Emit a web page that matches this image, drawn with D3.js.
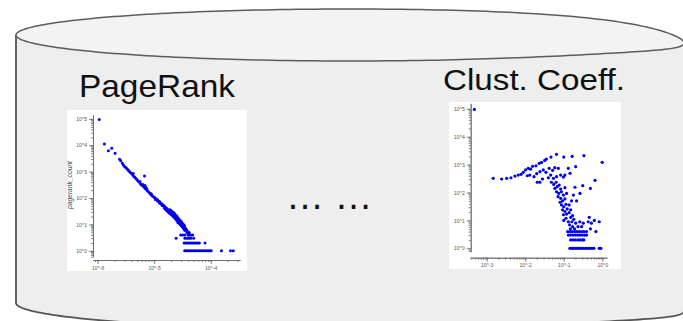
<!DOCTYPE html>
<html>
<head>
<meta charset="utf-8">
<script src="https://cdn.jsdelivr.net/npm/d3@7"></script>
<style>
  body { margin: 0; background: #fff; }
  svg { display: block; font-family: "Liberation Sans", Arial, sans-serif; }
</style>
</head>
<body>
<div id="chart"></div>
<script>
// set the dimensions of the picture
var width = 683,
    height = 321

// titles of the two small plots
var titles = ["PageRank", "Clust. Coeff."]

// tick values and their labels
var prXTicks = [1e-6, 1e-5, 1e-4]
var prXLabels = ["10^-6", "10^-5", "10^-4"]
var ccXTicks = [1e-3, 1e-2, 1e-1, 1]
var ccXLabels = ["10^-3", "10^-2", "10^-1", "10^0"]
var countTicks = [1, 10, 100, 1000, 10000, 100000]
var countLabels = ["10^0", "10^1", "10^2", "10^3", "10^4", "10^5"]

// pagerank value, number of nodes
var pagerankPoints = [
  [1.07e-6, 95000], [1.32e-6, 11200], [1.55e-6, 6200], [1.78e-6, 7800], [2.04e-6, 5000],
  [2.45e-6, 2950], [2.57e-6, 2600], [2.75e-6, 2100], [2.88e-6, 1740], [3.02e-6, 1550],
  [3.16e-6, 1450], [3.31e-6, 1290], [3.47e-6, 1150], [3.63e-6, 1050], [3.80e-6, 930],
  [3.98e-6, 850], [4.17e-6, 760], [4.27e-6, 850], [4.37e-6, 660], [4.57e-6, 615],
  [4.79e-6, 540], [5.01e-6, 490], [5.25e-6, 435], [5.50e-6, 400], [5.62e-6, 425],
  [5.75e-6, 345], [6.03e-6, 315], [6.31e-6, 295], [6.31e-6, 330], [6.61e-6, 265],
  [6.76e-6, 690], [6.92e-6, 230], [6.90e-6, 300], [7.10e-6, 260], [7.24e-6, 215],
  [7.41e-6, 225], [7.59e-6, 190], [7.94e-6, 175], [8.32e-6, 155], [8.71e-6, 140],
  [8.90e-6, 145], [9.12e-6, 125], [9.55e-6, 115], [1.00e-5, 107], [1.05e-5, 100],
  [1.05e-5, 88], [1.10e-5, 89], [1.15e-5, 87], [1.15e-5, 78], [1.20e-5, 76],
  [1.26e-5, 72], [1.26e-5, 64], [1.32e-5, 63], [1.38e-5, 60], [1.38e-5, 52],
  [1.45e-5, 53], [1.51e-5, 50], [1.51e-5, 43], [1.58e-5, 45], [1.58e-5, 38],
  [1.66e-5, 41], [1.66e-5, 34], [1.74e-5, 37], [1.74e-5, 31], [1.82e-5, 34],
  [1.82e-5, 28], [1.91e-5, 31], [1.91e-5, 26], [1.91e-5, 36], [2.00e-5, 28],
  [2.00e-5, 24], [2.00e-5, 33], [2.09e-5, 26], [2.09e-5, 22], [2.09e-5, 30],
  [2.19e-5, 24], [2.19e-5, 20], [2.19e-5, 29], [2.29e-5, 21], [2.29e-5, 18],
  [2.29e-5, 26], [2.40e-5, 19], [2.40e-5, 16], [2.40e-5, 23], [2.51e-5, 17],
  [2.51e-5, 14], [2.51e-5, 21], [2.63e-5, 15], [2.63e-5, 12], [2.63e-5, 18],
  [2.75e-5, 13], [2.75e-5, 11], [2.75e-5, 16], [2.88e-5, 12], [2.88e-5, 10],
  [2.88e-5, 14], [3.02e-5, 11], [3.02e-5, 9], [3.02e-5, 13], [3.16e-5, 9],
  [3.16e-5, 8], [3.16e-5, 11], [3.31e-5, 8], [3.31e-5, 7], [3.31e-5, 10],
  [3.47e-5, 7], [3.47e-5, 6], [3.47e-5, 9], [3.63e-5, 6], [3.63e-5, 7],
  [3.80e-5, 5], [3.80e-5, 6], [3.98e-5, 5], [3.98e-5, 4], [4.17e-5, 4],
  [4.17e-5, 5], [4.47e-5, 4], [4.47e-5, 3], [4.79e-5, 4], [5.00e-5, 3],
  [2.45e-5, 3], [2.95e-5, 4], [3.20e-5, 4], [3.50e-5, 4], [3.50e-5, 3],
  [3.80e-5, 3], [4.10e-5, 3],
  [3.39e-5, 2], [3.63e-5, 2], [3.89e-5, 2], [4.17e-5, 2], [4.47e-5, 2], [4.79e-5, 2],
  [5.13e-5, 2], [5.50e-5, 2], [5.89e-5, 2], [6.31e-5, 2], [7.94e-5, 2],
  [3.47e-5, 1], [3.72e-5, 1], [3.98e-5, 1], [4.27e-5, 1], [4.57e-5, 1], [4.90e-5, 1],
  [5.25e-5, 1], [5.62e-5, 1], [6.03e-5, 1], [6.46e-5, 1], [6.92e-5, 1], [7.41e-5, 1],
  [7.94e-5, 1], [8.51e-5, 1], [9.12e-5, 1], [9.77e-5, 1], [1.02e-4, 1], [1.55e-4, 1],
  [2.24e-4, 1], [2.51e-4, 1]
]

// clustering coefficient, number of nodes
var clustPoints = [
  [0.00048, 95000],
  [0.00148, 324], [0.00245, 306], [0.00331, 324], [0.00427, 340], [0.0054, 390],
  [0.0066, 425], [0.0078, 450], [0.0089, 530], [0.0102, 645], [0.0120, 740],
  [0.0138, 690], [0.0155, 870], [0.019, 910], [0.023, 1120], [0.0264, 1200],
  [0.032, 1420], [0.0355, 1590], [0.0465, 1870], [0.0648, 2340], [0.100, 1870],
  [0.165, 1990], [0.333, 2100], [0.99, 1210],
  [0.0113, 400], [0.0131, 425], [0.0169, 370], [0.0199, 475], [0.0241, 560],
  [0.0294, 645], [0.0345, 530], [0.0419, 740], [0.0513, 625], [0.0587, 780],
  [0.0723, 740], [0.131, 740], [0.203, 850], [0.145, 490], [0.0205, 234],
  [0.024, 234], [0.028, 306], [0.0398, 340], [0.0458, 425], [0.054, 324],
  [0.065, 370], [0.083, 425], [0.098, 360], [0.107, 425],
  [0.107, 150], [0.195, 155], [0.31, 177], [0.49, 141], [0.645, 275],
  [0.263, 93], [0.178, 81], [0.215, 50], [0.159, 50], [0.138, 36],
  [0.457, 13], [0.43, 9], [0.52, 8], [0.62, 10], [0.83, 9], [0.32, 8],
  [0.68, 4], [0.49, 5],
  [0.0478, 234], [0.055, 196], [0.063, 234], [0.0676, 162], [0.076, 186],
  [0.083, 134], [0.059, 141], [0.065, 107], [0.074, 93], [0.087, 107],
  [0.071, 71], [0.083, 62], [0.098, 81], [0.093, 50], [0.107, 59],
  [0.080, 45], [0.118, 93], [0.087, 36], [0.100, 31], [0.114, 38],
  [0.093, 24], [0.107, 21], [0.123, 26], [0.138, 19], [0.098, 16],
  [0.118, 17], [0.151, 24], [0.169, 15], [0.100, 10], [0.114, 12],
  [0.131, 9], [0.151, 13], [0.162, 9], [0.182, 11], [0.141, 7],
  [0.169, 6], [0.204, 8], [0.234, 6], [0.19, 5], [0.148, 5],
  [0.26, 9], [0.29, 6],
  [0.126, 4], [0.145, 4], [0.166, 4], [0.191, 4], [0.219, 4], [0.251, 4],
  [0.288, 4], [0.331, 4], [0.389, 4],
  [0.132, 3], [0.151, 3], [0.174, 3], [0.200, 3], [0.229, 3], [0.263, 3],
  [0.302, 3], [0.347, 3], [0.389, 3],
  [0.151, 2], [0.174, 2], [0.200, 2], [0.234, 2], [0.269, 2], [0.309, 2], [0.331, 2],
  [0.144, 1], [0.163, 1], [0.183, 1], [0.206, 1], [0.232, 1], [0.262, 1],
  [0.295, 1], [0.332, 1], [0.374, 1], [0.422, 1], [0.475, 1], [0.536, 1],
  [0.604, 1], [0.83, 1], [0.916, 1]
]

var svg = d3.select("#chart")
  .append("svg")
    .attr("width", width)
    .attr("height", height)

// ---- the database cylinder ----
var cyl = {left: 16, right: 684, top: 35, bottom: 303, ry: 26}
var cx = (cyl.left + cyl.right) / 2,
    rx = (cyl.right - cyl.left) / 2

// the right end of the drawing sags a little
function ellPoint(t, cy) {
  var x = cx + rx * Math.cos(t)
  var sag = 8 * Math.pow((x - cyl.left) / (cyl.right - cyl.left), 12)
  return [x, cy + cyl.ry * Math.sin(t) + sag]
}
function arcPoints(cy, t0, t1, n) {
  return d3.range(n + 1).map(function(i) { return ellPoint(t0 + (t1 - t0) * i / n, cy) })
}

var line = d3.line()
var body = [ellPoint(Math.PI, cyl.top)]
  .concat(arcPoints(cyl.bottom, Math.PI, 0, 120))
  .concat(arcPoints(cyl.top, 0, Math.PI, 120))

svg.append("path")
  .attr("d", line(body) + "Z")
  .attr("fill", "#eeeeee")
  .attr("stroke", "none")

// left side and bottom rim
svg.append("path")
  .attr("d", line([ellPoint(Math.PI, cyl.top)].concat(arcPoints(cyl.bottom, Math.PI, 0, 120))))
  .attr("fill", "none")
  .attr("stroke", "#555")
  .attr("stroke-width", 1.8)

// lid
svg.append("path")
  .attr("d", line(arcPoints(cyl.top, 0, 2 * Math.PI, 240)) + "Z")
  .attr("fill", "#f3f3f3")
  .attr("stroke", "#5c5c5c")
  .attr("stroke-width", 1.5)

// ---- titles ----
svg.append("text")
  .attr("x", 79).attr("y", 97)
  .attr("font-size", 30.5)
  .attr("textLength", 156).attr("lengthAdjust", "spacingAndGlyphs")
  .attr("fill", "#111")
  .text(titles[0])

svg.append("text")
  .attr("x", 443).attr("y", 90)
  .attr("font-size", 29.5)
  .attr("textLength", 182).attr("lengthAdjust", "spacingAndGlyphs")
  .attr("fill", "#111")
  .text(titles[1])

svg.append("text")
  .attr("x", 286).attr("y", 209)
  .attr("font-size", 38)
  .attr("fill", "#111")
  .text("\u2026 \u2026")

// ---- a small log-log scatter plot ----
function drawPlot(cfg) {
  svg.append("rect")
    .attr("x", cfg.panel[0]).attr("y", cfg.panel[1])
    .attr("width", cfg.panel[2]).attr("height", cfg.panel[3])
    .attr("fill", "#fff")

  var x = d3.scaleLog().domain(cfg.xDomain).range(cfg.xRange)
  var y = d3.scaleLog().domain(cfg.yDomain).range(cfg.yRange)

  var g = svg.append("g")

  // minor ticks first, then major ticks with labels
  g.append("g")
    .attr("transform", "translate(0," + cfg.xAxisY + ")")
    .call(d3.axisBottom(x).tickValues(x.ticks()).tickSize(2).tickSizeOuter(0).tickFormat(""))
  g.append("g")
    .attr("transform", "translate(0," + cfg.xAxisY + ")")
    .call(d3.axisBottom(x).tickValues(cfg.xTicks).tickSize(4).tickSizeOuter(0).tickPadding(2)
      .tickFormat(function(d, i) { return cfg.xLabels[i] }))

  g.append("g")
    .attr("transform", "translate(" + cfg.yAxisX + ",0)")
    .call(d3.axisLeft(y).tickValues(y.ticks()).tickSize(2).tickSizeOuter(0).tickFormat(""))
  g.append("g")
    .attr("transform", "translate(" + cfg.yAxisX + ",0)")
    .call(d3.axisLeft(y).tickValues(countTicks).tickSize(4).tickSizeOuter(0).tickPadding(2)
      .tickFormat(function(d, i) { return countLabels[i] }))

  g.selectAll(".domain, .tick line").attr("stroke", "#666").attr("stroke-width", 0.8)
  g.selectAll(".tick text").attr("fill", "#555").attr("font-size", 5)
    .attr("font-family", "Liberation Sans, Arial, sans-serif")

  if (cfg.yTitle) {
    svg.append("text")
      .attr("transform", "translate(" + cfg.yTitle[1] + "," + cfg.yTitle[2] + ") rotate(-90)")
      .attr("text-anchor", "middle")
      .attr("font-size", 6.7)
      .attr("font-style", "italic")
      .attr("fill", "#444")
      .text(cfg.yTitle[0])
  }

  svg.append("g")
    .selectAll("circle")
    .data(cfg.data)
    .enter()
    .append("circle")
      .attr("cx", function(d) { return x(d[0]) })
      .attr("cy", function(d) { return y(d[1]) })
      .attr("r", cfg.r)
      .attr("fill", "#0000f0")
}

drawPlot({
  panel: [67, 110, 180, 161],
  xDomain: [8.3e-7, 3.3e-4], xRange: [93, 240],
  yDomain: [0.6, 141000], yRange: [256.7, 115],
  xAxisY: 260, yAxisX: 93,
  xTicks: prXTicks, xLabels: prXLabels,
  yTitle: ["pagerank_count", 72, 185],
  data: pagerankPoints, r: 1.5
})

drawPlot({
  panel: [449, 102, 172, 167],
  xDomain: [3.7e-4, 1.32], xRange: [470, 607],
  yDomain: [0.76, 158000], yRange: [251.7, 103.3],
  xAxisY: 257.7, yAxisX: 470.7,
  xTicks: ccXTicks, xLabels: ccXLabels,
  yTitle: null,
  data: clustPoints, r: 1.6
})
</script>
</body>
</html>
